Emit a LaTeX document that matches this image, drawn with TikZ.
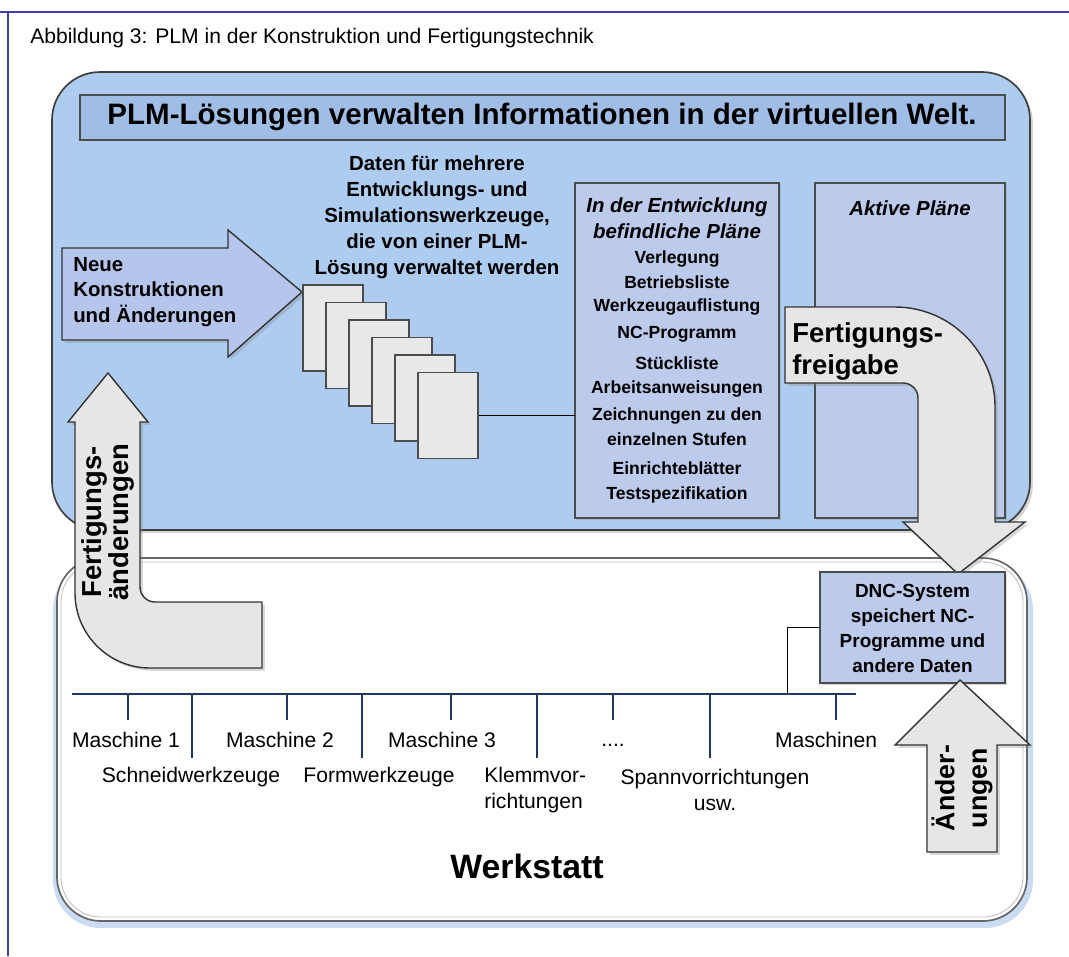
\documentclass[tikz,border=0pt]{standalone}
\usepackage{fontspec}
\setmainfont{Liberation Sans}
\usetikzlibrary{positioning, calc, shadows}
\definecolor{frameblue}{RGB}{64, 64, 170}
\definecolor{plmblue}{RGB}{174, 204, 239}
\definecolor{bannerblue}{RGB}{160, 189, 230}
\definecolor{planblue}{RGB}{188, 202, 236}
\definecolor{arrowlav}{RGB}{182, 197, 235}
\definecolor{arrowgray}{RGB}{230, 230, 230}
\definecolor{busblue}{RGB}{31, 56, 100}
\definecolor{glowblue}{RGB}{140, 175, 225}

\begin{document}
\begin{tikzpicture}[
  x=0.025cm,
  y=-0.025cm,
  every node/.style={inner sep=0pt},
  panel/.style={draw=black!75, line width=1.2pt, rounded corners=1.2cm},
  planbox/.style={draw=black!70, fill=planblue, line width=1pt,
                  drop shadow={shadow xshift=1.5pt, shadow yshift=-1.5pt, opacity=0.3}},
  pagebox/.style={draw=black!70, fill=black!9, line width=0.8pt,
                  minimum width=1.5cm, minimum height=2.15cm},
  bigarrow/.style={draw=black!80, line width=1pt, fill=arrowgray,
                   drop shadow={shadow xshift=2pt, shadow yshift=-2pt, opacity=0.3}},
  bus/.style={draw=busblue, line width=0.9pt},
  hdr/.style={font=\bfseries\fontsize{14.5}{18.5}\selectfont, align=center},
  item/.style={font=\bfseries\fontsize{12.5}{15}\selectfont, align=center},
  lbl/.style={font=\fontsize{15}{19}\selectfont, align=center}
]
\useasboundingbox (0,0) rectangle (1069,956);

% page frame
\draw[frameblue, line width=1pt] (0,12) -- (1069,12);
\draw[frameblue, line width=1pt] (8,12) -- (8,956);

\node[anchor=west, font=\fontsize{15}{18}\selectfont] (caption) at (30,38)
  {Abbildung 3: PLM in der Konstruktion und Fertigungstechnik};

% virtual world
\draw[panel, fill=plmblue,
      drop shadow={shadow xshift=2pt, shadow yshift=-2pt, opacity=0.35}]
  (52,72) rectangle (1030,530);

\draw[draw=black!70, fill=bannerblue, line width=1pt] (80,95) rectangle (1005,140);
\node[font=\bfseries\fontsize{21}{24}\selectfont] (title) at (542,117)
  {PLM-Lösungen verwalten Informationen in der virtuellen Welt.};

\draw[draw=black!80, line width=1pt, fill=arrowlav,
      drop shadow={shadow xshift=2pt, shadow yshift=-2pt, opacity=0.3}]
  (62,248) -- (228,248) -- (228,230) -- (302,292) -- (228,357) -- (228,340)
  -- (62,340) -- cycle;
\node[anchor=west, align=left, font=\bfseries\fontsize{14.5}{18}\selectfont]
  (neu) at (73,292) {Neue\\Konstruktionen\\und Änderungen};

\foreach \i in {1,...,6} {
  \node[pagebox] (page\i) at ({333+23*(\i-1)},{328+17.5*(\i-1)}) {};
}
\node[hdr] (daten) at (437,217)
  {Daten für mehrere\\Entwicklungs- und\\Simulationswerkzeuge,\\die von einer PLM-\\Lösung verwaltet werden};

\draw[planbox] (575,183) rectangle (779,518);
\node (plans) at (677,350) [minimum width=5.1cm, minimum height=8.375cm] {};
\node[hdr, font=\bfseries\itshape\fontsize{14.5}{18.5}\selectfont] (planshdr) at (677,218)
  {In der Entwicklung\\befindliche Pläne};
\foreach \y/\t in {259/Verlegung, 282/Betriebsliste, 307/Werkzeugauflistung,
                   334/NC-Programm, 363/Stückliste, 389/Arbeitsanweisungen,
                   416/Zeichnungen zu den, 439/einzelnen Stufen,
                   468/Einrichteblätter, 495/Testspezifikation} {
  \node[item] at (677,\y) {\t};
}

\draw (page6.east) -- (page6.east -| plans.west);

\draw[planbox] (815,183) rectangle (1005,518);
\node[hdr, font=\bfseries\itshape\fontsize{14.5}{18.5}\selectfont] (aktiv) at (910,208)
  {Aktive Pläne};

% workshop
\fill[glowblue, opacity=0.45, rounded corners=1.2cm] (53,562) rectangle (1033,928);
\draw[panel, draw=black!60, fill=white, rounded corners=1.1cm] (57,558) rectangle (1027,921);
\draw[black!25, line width=0.6pt, rounded corners=1cm] (61,562) rectangle (1023,917);

\draw[bigarrow]
  (785,307) -- (895,307) arc[start angle=-90, end angle=0, radius=100]
  -- (995,522) -- (1025,522) -- (958,574) -- (903,522) -- (918,522)
  -- (918,398) arc[start angle=0, end angle=-90, radius=15]
  -- (785,383) -- cycle;
\node[anchor=west, align=left, font=\bfseries\fontsize{19.5}{22.7}\selectfont]
  (freigabe) at (792,351) {Fertigungs-\\freigabe};

\draw[bigarrow]
  (75,422) -- (68,422) -- (108,373) -- (148,422) -- (140,422)
  -- (140,587) arc[start angle=180, end angle=90, radius=15]
  -- (262,602) -- (262,668) -- (150,668)
  arc[start angle=90, end angle=180, radius=75] -- cycle;
\node[rotate=90, align=center, font=\bfseries\fontsize{19.5}{19}\selectfont]
  (fertaend) at (108,522) {Fertigungs-\\änderungen};

\node[planbox, minimum width=4.625cm, minimum height=2.775cm] (dnc) at (912.5,627.5) {};
\node[hdr, font=\bfseries\fontsize{13.5}{17.8}\selectfont] (dnctext) at (912.5,628.5)
  {DNC-System\\speichert NC-\\Programme und\\andere Daten};

\draw[bigarrow]
  (927,852) -- (927,745) -- (895,745) -- (960,680) -- (1030,745)
  -- (997,745) -- (997,852) -- cycle;
\node[rotate=90, align=center, font=\bfseries\fontsize{19}{23}\selectfont]
  (aend) at (962,788) {Änder-\\ungen};

% machine bus
\coordinate (busL) at (72,694);
\coordinate (busR) at (856,694);
\coordinate (busdnc) at (787,694);
\draw[bus] (busL) -- (busR);
\draw (dnc.west) -| (busdnc);
\foreach \x in {128, 287, 451, 613, 836} {
  \draw[bus] (\x,694) -- (\x,720);
}
\foreach \x in {192, 362, 537, 710} {
  \draw[bus] (\x,694) -- (\x,758);
}

\node[lbl] (m1) at (126,740) {Maschine 1};
\node[lbl] (m2) at (280,740) {Maschine 2};
\node[lbl] (m3) at (442,740) {Maschine 3};
\node[lbl] (mdots) at (613,745) {....};
\node[lbl] (mn) at (826,740) {Maschinen};
\node[lbl] (t1) at (191,777) {Schneidwerkzeuge};
\node[lbl] (t2) at (379,777) {Formwerkzeuge};
\node[lbl, align=left, anchor=west] (t3) at (484,790) {Klemmvor-\\richtungen};
\node[lbl] (t4) at (715,790) {Spannvorrichtungen\\usw.};

\node[font=\bfseries\fontsize{24}{28}\selectfont] (werkstatt) at (527,866) {Werkstatt};

\end{tikzpicture}
\end{document}
